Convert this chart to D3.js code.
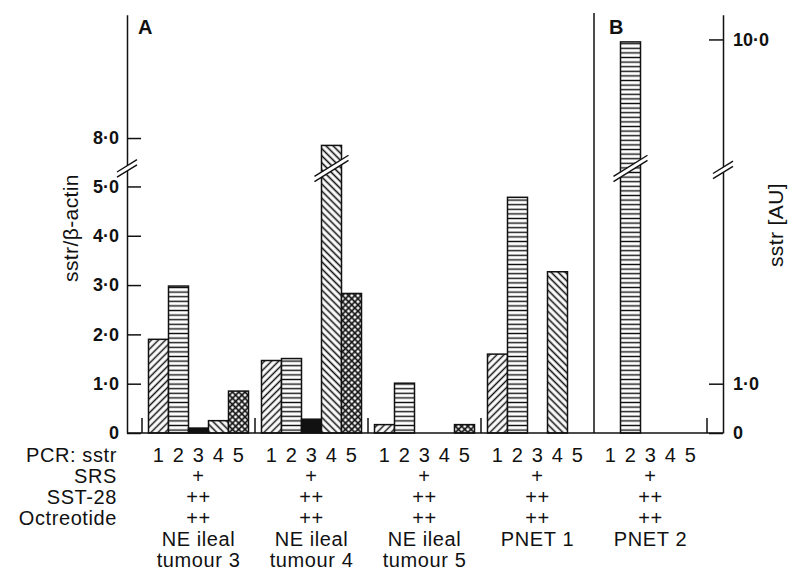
<!DOCTYPE html>
<html>
<head>
<meta charset="utf-8">
<script src="https://cdn.jsdelivr.net/npm/d3@7"></script>
<style>
  body { margin: 0; background: #fff; }
  svg text { font-family: "Liberation Sans", Arial, sans-serif; fill: #111; }
</style>
</head>
<body>
<div id="chart"></div>
<script>
// chart data
const groups = ["g3", "g4", "g5", "p1", "p2"];
const groupLabels = [["NE ileal", "tumour 3"], ["NE ileal", "tumour 4"], ["NE ileal", "tumour 5"], ["PNET 1"], ["PNET 2"]];
const sstr = ["1", "2", "3", "4", "5"];
const tumour3 = [1.9, 2.98, 0.1, 0.25, 0.85];
const tumour4 = [1.47, 1.51, 0.28, 7.85, 2.83];
const tumour5 = [0.17, 1.01, 0, 0, 0.17];
const pnet1 = [1.6, 4.78, 0, 3.27, 0];
const pnet2 = [0, 9.95, 0, 0, 0];
const srs = ["+", "+", "+", "+", "+"];
const sst28 = ["++", "++", "++", "++", "++"];
const octreotide = ["++", "++", "++", "++", "++"];
const leftTicks = [0, 1, 2, 3, 4, 5, 8];
const rightTicks = [0, 1, 10];

const seriesValues = [tumour3, tumour4, tumour5, pnet1, pnet2];
const rows = [
  { label: "SRS", vals: srs, y: 483 },
  { label: "SST-28", vals: sst28, y: 504 },
  { label: "Octreotide", vals: octreotide, y: 525 }
];

const W = 789, H = 571;
const axisLeftX = 127, axisRightX = 723;
const base = 433;

const svg = d3.select("#chart").append("svg")
  .attr("width", W).attr("height", H);

// hatch patterns, one per sstr subtype
const defs = svg.append("defs");
const mkLines = (id, angle, gap, sw) => {
  const p = defs.append("pattern").attr("id", id)
    .attr("patternUnits", "userSpaceOnUse")
    .attr("width", gap).attr("height", gap)
    .attr("patternTransform", `rotate(${angle})`);
  p.append("rect").attr("width", gap).attr("height", gap).attr("fill", "#fff");
  p.append("line").attr("x1", gap / 2).attr("x2", gap / 2).attr("y1", 0).attr("y2", gap)
    .attr("stroke", "#111").attr("stroke-width", sw);
};
mkLines("p1", 45, 5, 1.5);
mkLines("p2", 90, 4.6, 1.4);
mkLines("p4", -45, 5, 1.6);
const cross = defs.append("pattern").attr("id", "p5")
  .attr("patternUnits", "userSpaceOnUse").attr("width", 4.4).attr("height", 4.4)
  .attr("patternTransform", "rotate(45)");
cross.append("rect").attr("width", 4.4).attr("height", 4.4).attr("fill", "#fff");
cross.append("line").attr("x1", 2.2).attr("x2", 2.2).attr("y1", 0).attr("y2", 4.4)
  .attr("stroke", "#111").attr("stroke-width", 1.7);
cross.append("line").attr("y1", 2.2).attr("y2", 2.2).attr("x1", 0).attr("x2", 4.4)
  .attr("stroke", "#111").attr("stroke-width", 1.7);
const fills = ["url(#p1)", "url(#p2)", "#111", "url(#p4)", "url(#p5)"];

// broken y scale: 0..5.35 below the break, 7.4.. above it
const y = d3.scaleLinear()
  .domain([0, 5.35, 7.4, 10.5])
  .range([base, 169.2, 167.6, 14.8]);
const breakY = 168.4;

const x0 = d3.scaleBand().domain(groups)
  .range([142, 707]).paddingInner(13 / 113).paddingOuter(6.5 / 113);
const x1 = d3.scaleBand().domain(sstr).range([0, x0.bandwidth()]);

const fmt = d => d === 0 ? "0" : d3.format(".1f")(d).replace(".", "\u00b7");

// bars
const g = svg.append("g").selectAll("g")
  .data(groups.map((k, i) => ({ k, vals: seriesValues[i] })))
  .join("g")
  .attr("transform", d => `translate(${x0(d.k)},0)`);

g.selectAll("rect")
  .data(d => d.vals.map((v, j) => ({ v, s: sstr[j], j })).filter(e => e.v > 0))
  .join("rect")
  .attr("x", d => x1(d.s))
  .attr("y", d => y(d.v))
  .attr("width", x1.bandwidth())
  .attr("height", d => base - y(d.v))
  .attr("fill", d => fills[d.j])
  .attr("stroke", "#111")
  .attr("stroke-width", 1.5);

// break marks drawn across a line or a bar
const breakMark = (cx, cy, hw) => {
  const s = 0.62, gap = 2.6;
  const bm = svg.append("g");
  bm.append("polygon")
    .attr("points", [[cx - hw, cy + hw * s - gap], [cx + hw, cy - hw * s - gap],
                     [cx + hw, cy - hw * s + gap], [cx - hw, cy + hw * s + gap]].join(" "))
    .attr("fill", "#fff");
  [-gap, gap].forEach(o => bm.append("line")
    .attr("x1", cx - hw).attr("y1", cy + hw * s + o)
    .attr("x2", cx + hw).attr("y2", cy - hw * s + o)
    .attr("stroke", "#111").attr("stroke-width", 1.4));
};

g.each(function (d) {
  d.vals.forEach((v, j) => {
    if (v > 7.4) breakMark(x0(d.k) + x1(sstr[j]) + x1.bandwidth() / 2, breakY, 17);
  });
});

// axes
const leftAxis = svg.append("g")
  .attr("transform", `translate(${axisLeftX},0)`)
  .call(d3.axisLeft(y).tickValues(leftTicks).tickFormat(fmt)
    .tickSizeInner(-14).tickSizeOuter(0).tickPadding(8));
const rightAxis = svg.append("g")
  .attr("transform", `translate(${axisRightX},0)`)
  .call(d3.axisRight(y).tickValues(rightTicks).tickFormat(fmt)
    .tickSizeInner(-14).tickSizeOuter(0).tickPadding(10));
[leftAxis, rightAxis].forEach(a => {
  a.selectAll("path, line").attr("stroke", "#111").attr("stroke-width", 1.5);
  a.selectAll("text").attr("font-size", 18).attr("font-weight", "bold")
    .attr("fill", "#111").style("font-family", "'Liberation Sans', Arial, sans-serif");
});
breakMark(axisLeftX, breakY, 10);
breakMark(axisRightX, breakY + 1.5, 10);

// baseline
svg.append("line")
  .attr("x1", axisLeftX).attr("x2", axisRightX).attr("y1", base).attr("y2", base)
  .attr("stroke", "#111").attr("stroke-width", 1.5);

// group separators: short ticks, full line before panel B
const seps = groups.map(k => x0(k) - 6.5).concat([x0(groups[4]) + x0.bandwidth() + 6.5]);
seps.forEach((sx, i) => {
  svg.append("line")
    .attr("x1", sx).attr("x2", sx)
    .attr("y1", i === 4 ? 13 : base - 15).attr("y2", base)
    .attr("stroke", "#111").attr("stroke-width", 1.5);
});

// panel letters
svg.append("text").attr("x", 138).attr("y", 34).attr("font-size", 20)
  .attr("font-weight", "bold").text("A");
svg.append("text").attr("x", 609).attr("y", 34).attr("font-size", 20)
  .attr("font-weight", "bold").text("B");

// axis titles
svg.append("text")
  .attr("transform", "translate(78,228) rotate(-90)")
  .attr("text-anchor", "middle").attr("font-size", 21).attr("letter-spacing", 0.4)
  .text("sstr/\u03b2-actin");
svg.append("text")
  .attr("transform", "translate(783,225) rotate(-90)")
  .attr("text-anchor", "middle").attr("font-size", 21).attr("letter-spacing", 0.4)
  .text("sstr [AU]");

// category rows under the bars
const lab = svg.append("g").attr("font-size", 20).attr("letter-spacing", 0.6);
lab.append("text").attr("x", 117).attr("y", 462).attr("text-anchor", "end").text("PCR: sstr");
groups.forEach((k, i) => {
  sstr.forEach(s => {
    lab.append("text").attr("x", x0(k) + x1(s) + x1.bandwidth() / 2).attr("y", 462)
      .attr("text-anchor", "middle").text(s);
  });
  const cx3 = x0(k) + x1("3") + x1.bandwidth() / 2;
  rows.forEach(r => {
    lab.append("text").attr("x", cx3).attr("y", r.y).attr("text-anchor", "middle").text(r.vals[i]);
  });
  groupLabels[i].forEach((line, li) => {
    lab.append("text").attr("x", x0(k) + x0.bandwidth() / 2).attr("y", 546 + li * 21)
      .attr("text-anchor", "middle").text(line);
  });
});
rows.forEach(r => {
  lab.append("text").attr("x", 117).attr("y", r.y).attr("text-anchor", "end").text(r.label);
});
</script>
</body>
</html>
